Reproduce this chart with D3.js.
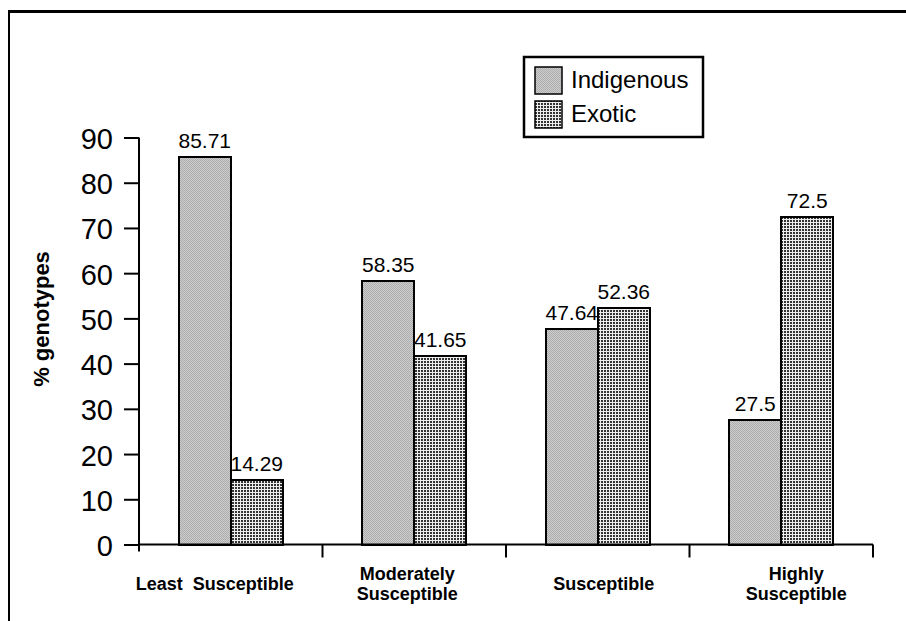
<!DOCTYPE html>
<html>
<head>
<meta charset="utf-8">
<script src="https://cdn.jsdelivr.net/npm/d3@7"></script>
<style>
  html, body { margin: 0; padding: 0; background: #fff; }
  svg { display: block; font-family: "Liberation Sans", Arial, sans-serif; }
</style>
</head>
<body>
<svg id="chart" width="906" height="621"></svg>
<script>
// Susceptibility classes and the share of genotypes in each
const categories = ["Least Susceptible", "Moderately Susceptible", "Susceptible", "Highly Susceptible"];
const categoryLines = [["Least  Susceptible"], ["Moderately", "Susceptible"], ["Susceptible"], ["Highly", "Susceptible"]];
const seriesNames = ["Indigenous", "Exotic"];
const indigenous = [85.71, 58.35, 47.64, 27.5];
const exotic = [14.29, 41.65, 52.36, 72.5];
const yTicks = [0, 10, 20, 30, 40, 50, 60, 70, 80, 90];
const yTitle = "% genotypes";

const seriesValues = [indigenous, exotic];

const svg = d3.select("#chart");
const defs = svg.append("defs");

// Fine light-grey stipple for Indigenous
const p1 = defs.append("pattern").attr("id", "patIndig")
  .attr("patternUnits", "userSpaceOnUse").attr("width", 2).attr("height", 2);
p1.append("rect").attr("width", 2).attr("height", 2).attr("fill", "#cdcdcd");
p1.append("rect").attr("x", 0).attr("y", 0).attr("width", 1).attr("height", 1).attr("fill", "#adadad");
p1.append("rect").attr("x", 1).attr("y", 1).attr("width", 1).attr("height", 1).attr("fill", "#adadad");

// Dark small-grid for Exotic
const p2 = defs.append("pattern").attr("id", "patExotic")
  .attr("patternUnits", "userSpaceOnUse").attr("width", 3).attr("height", 3);
p2.append("rect").attr("width", 3).attr("height", 3).attr("fill", "#eeeeee");
p2.append("rect").attr("x", 1).attr("y", 1).attr("width", 2).attr("height", 2).attr("fill", "#333333");

const fills = ["url(#patIndig)", "url(#patExotic)"];

// Outer frame (left and top edges visible)
svg.append("line").attr("x1", 9).attr("y1", 11.5).attr("x2", 906).attr("y2", 11.5)
  .attr("stroke", "#000").attr("stroke-width", 3);
svg.append("line").attr("x1", 9).attr("y1", 10).attr("x2", 9).attr("y2", 621)
  .attr("stroke", "#000").attr("stroke-width", 2);

const plot = { left: 139, right: 873, top: 137.5, bottom: 544.5 };

const y = d3.scaleLinear().domain([0, 90]).range([plot.bottom, plot.top]);
const x0 = d3.scaleBand().domain(categories).range([plot.left, plot.right]).paddingInner(0).paddingOuter(0);
const x1 = d3.scaleBand().domain(seriesNames).range([0, x0.bandwidth()]).paddingInner(0).paddingOuter(0.764);

// Bars (snapped to whole pixels so the fill patterns stay crisp)
const barData = [];
categories.forEach((cat, ci) => {
  seriesNames.forEach((s, si) => {
    barData.push({ cat, s, si, v: seriesValues[si][ci] });
  });
});

const barLayer = svg.append("g");
barLayer.selectAll("rect").data(barData).join("rect")
  .attr("x", d => Math.round(x0(d.cat) + x1(d.s)))
  .attr("y", d => Math.round(y(d.v)))
  .attr("width", d => Math.round(x0(d.cat) + x1(d.s) + x1.bandwidth()) - Math.round(x0(d.cat) + x1(d.s)))
  .attr("height", d => Math.round(y(0)) - Math.round(y(d.v)))
  .attr("fill", d => fills[d.si])
  .attr("stroke", "#000")
  .attr("stroke-width", 2);

barLayer.selectAll("text").data(barData).join("text")
  .attr("x", d => x0(d.cat) + x1(d.s) + x1.bandwidth() / 2)
  .attr("y", d => y(d.v) - 9)
  .attr("text-anchor", "middle")
  .attr("font-size", 21)
  .attr("fill", "#000")
  .text(d => String(d.v));

// Y axis
const yAxis = svg.append("g").attr("transform", `translate(${plot.left},0)`)
  .call(d3.axisLeft(y).tickValues(yTicks).tickSize(15).tickPadding(11).tickFormat(d3.format("d")));
yAxis.select(".domain").attr("d", `M0,${plot.top}V${plot.bottom + 7}`).attr("stroke", "#000").attr("stroke-width", 2);
yAxis.selectAll(".tick line").attr("stroke", "#000").attr("stroke-width", 2);
yAxis.selectAll(".tick text").attr("font-size", 29).attr("font-family", "Liberation Sans, Arial, sans-serif")
  .attr("fill", "#000").attr("dy", "0.38em");

// X axis with boundary ticks between classes
const xBounds = categories.map(c => x0(c)).concat([x0(categories[categories.length - 1]) + x0.bandwidth()]);
const xAxis = svg.append("g");
xAxis.append("line").attr("x1", plot.left).attr("x2", plot.right)
  .attr("y1", plot.bottom).attr("y2", plot.bottom).attr("stroke", "#000").attr("stroke-width", 2);
xAxis.selectAll("line.bt").data(xBounds.slice(1)).join("line").attr("class", "bt")
  .attr("x1", d => d).attr("x2", d => d)
  .attr("y1", plot.bottom).attr("y2", plot.bottom + 13)
  .attr("stroke", "#000").attr("stroke-width", 2);

// Category labels
const labelNudge = [-16, -7, 6, 15];
const cl = svg.append("g");
categories.forEach((c, i) => {
  const lines = categoryLines[i];
  const cx = x0(c) + x0.bandwidth() / 2 + labelNudge[i];
  const baseY = lines.length === 1 ? 590 : 580;
  const t = cl.append("text")
    .attr("text-anchor", "middle")
    .attr("font-size", 18)
    .attr("font-weight", "bold")
    .attr("fill", "#000")
    .attr("xml:space", "preserve")
    .style("white-space", "pre");
  lines.forEach((ln, li) => {
    t.append("tspan").attr("x", cx).attr("y", baseY + li * 20).text(ln);
  });
});

// Y title
svg.append("text")
  .attr("transform", `translate(49,319) rotate(-90)`)
  .attr("text-anchor", "middle")
  .attr("font-size", 22)
  .attr("font-weight", "bold")
  .attr("fill", "#000")
  .text(yTitle);

// Legend
const lg = svg.append("g");
lg.append("rect").attr("x", 524).attr("y", 57).attr("width", 179).attr("height", 80)
  .attr("fill", "#fff").attr("stroke", "#000").attr("stroke-width", 2.5);
seriesNames.forEach((s, i) => {
  const yy = 67 + i * 34;
  lg.append("rect").attr("x", 535).attr("y", yy).attr("width", 27).attr("height", 27)
    .attr("fill", fills[i]).attr("stroke", "#000").attr("stroke-width", 1.5);
  lg.append("text").attr("x", 571).attr("y", yy + 21)
    .attr("font-size", 24).attr("fill", "#000").text(s);
});
</script>
</body>
</html>
